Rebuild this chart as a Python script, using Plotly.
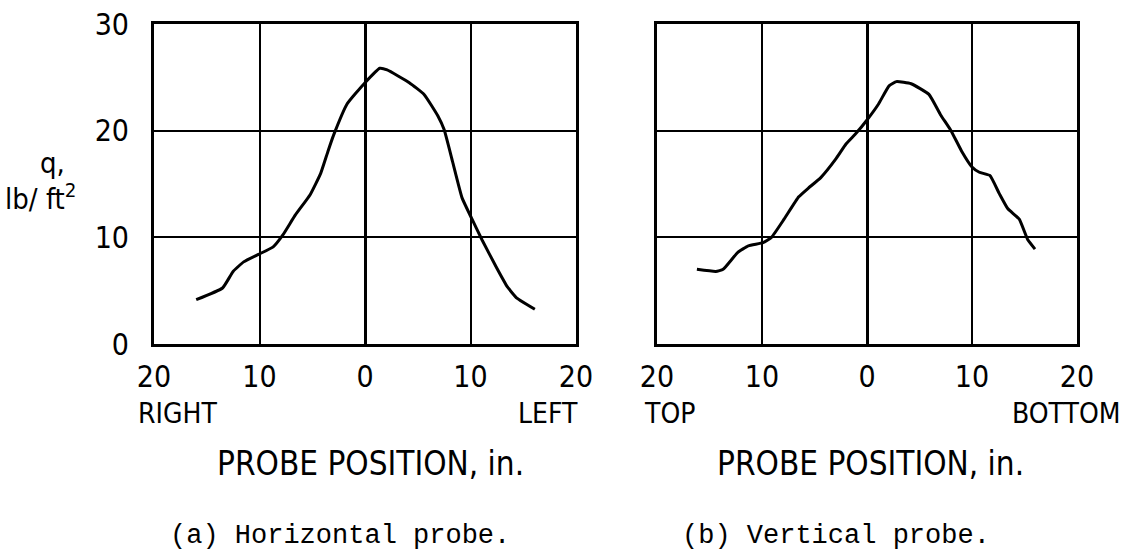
import plotly.graph_objects as go
from plotly.subplots import make_subplots

# Horizontal probe (a): position (in., right negative / left positive), q (lb/ft^2)
h_pos = [-16.0, -13.5, -12.5, -11.5, -10.1, -8.7, -7.8, -6.6, -5.2, -4.2, -3.5, -2.95,
         -1.7, 0.0, 1.4, 2.1, 4.2, 5.6, 6.9, 7.5, 8.3, 9.2, 10.1, 11.1, 12.5, 13.5, 14.4, 16.1]
h_q = [4.15, 5.25, 6.8, 7.7, 8.4, 9.1, 10.2, 12.1, 14.0, 16.0, 18.1, 19.65,
       22.5, 24.5, 25.85, 25.7, 24.5, 23.4, 21.4, 20.1, 17.1, 13.7, 11.8, 9.75, 7.1, 5.35, 4.3, 3.25]

# Vertical probe (b): position (in., top negative / bottom positive), q (lb/ft^2)
v_pos = [-16.2, -14.4, -13.7, -12.3, -11.3, -9.9, -9.1, -7.9, -6.5, -5.6, -4.4, -3.0,
         -2.0, -1.0, 0.0, 1.1, 2.1, 2.8, 4.2, 5.9, 7.0, 8.0, 9.0, 10.0, 10.7, 11.7,
         12.6, 13.4, 14.5, 15.3, 16.0]
v_q = [7.0, 6.8, 7.0, 8.6, 9.2, 9.5, 10.0, 11.7, 13.8, 14.6, 15.6, 17.3,
       18.75, 19.8, 21.0, 22.5, 24.2, 24.6, 24.4, 23.4, 21.5, 20.0, 18.1, 16.6, 16.1, 15.8,
       14.1, 12.7, 11.7, 9.8, 8.9]

x_tickvals = [-20, -10, 0, 10, 20]
x_ticktext = ["20", "10", "0", "10", "20"]
y_tickvals = [0, 10, 20, 30]
y_ticktext = ["0", "10", "20", "30"]

COND = "DejaVu Sans Condensed, DejaVu Sans, sans-serif"
MONO = "Liberation Mono, Courier New, DejaVu Sans Mono, monospace"

fig = make_subplots(rows=1, cols=2)
fig.add_trace(go.Scatter(x=h_pos, y=h_q, mode="lines", line=dict(color="black", width=3, shape="spline", smoothing=0.4),
                         showlegend=False, hoverinfo="skip"), row=1, col=1)
fig.add_trace(go.Scatter(x=v_pos, y=v_q, mode="lines", line=dict(color="black", width=3, shape="spline", smoothing=0.4),
                         showlegend=False, hoverinfo="skip"), row=1, col=2)

ytop = 1 - 24 / 554
ybot = 1 - 344 / 554
tickf = dict(family=COND, size=30, color="black")
common_x = dict(range=[-20, 20], tickvals=x_tickvals, ticktext=x_ticktext, showgrid=True,
                gridcolor="black", gridwidth=1.5, zeroline=True, zerolinecolor="black", zerolinewidth=3,
                showline=True, linecolor="black", linewidth=3, mirror=True, ticks="",
                tickfont=tickf, automargin=False, fixedrange=True, ticklabelstandoff=4)
common_y = dict(range=[0, 30], tickvals=y_tickvals, ticktext=y_ticktext, showgrid=True,
                gridcolor="black", gridwidth=1.5, zeroline=False,
                showline=True, linecolor="black", linewidth=3, mirror=True, ticks="",
                domain=[ybot, ytop], automargin=False, fixedrange=True)

fig.update_layout(
    width=1128, height=554, margin=dict(l=0, r=0, t=0, b=0),
    paper_bgcolor="white", plot_bgcolor="white",
    xaxis=dict(common_x, domain=[154 / 1128, 576 / 1128]),
    xaxis2=dict(common_x, domain=[657 / 1128, 1077 / 1128]),
    yaxis=dict(common_y, showticklabels=True, ticklabelstandoff=16, tickfont=tickf),
    yaxis2=dict(common_y, showticklabels=False),
)

def ann(text, x, y, size, family=COND, xanchor="center"):
    fig.add_annotation(text=text, x=x / 1128, y=1 - y / 554, xref="paper", yref="paper",
                       showarrow=False, xanchor=xanchor, yanchor="middle",
                       font=dict(family=family, size=size, color="black"))

ann("q,", 52, 163, 29)
ann("lb/ ft<sup>2</sup>", 40, 197, 29)
ann("RIGHT", 136, 413, 28, xanchor="left")
ann("LEFT", 580, 413, 28, xanchor="right")
ann("TOP", 642, 413, 28, xanchor="left")
ann("BOTTOM", 1122, 413, 28, xanchor="right")
ann("PROBE POSITION, in.", 370, 463, 33)
ann("PROBE POSITION, in.", 870, 463, 33)
ann("(a) Horizontal probe.", 340, 536, 27, family=MONO)
ann("(b) Vertical probe.", 836, 536, 27, family=MONO)

fig.write_html("out.html")
